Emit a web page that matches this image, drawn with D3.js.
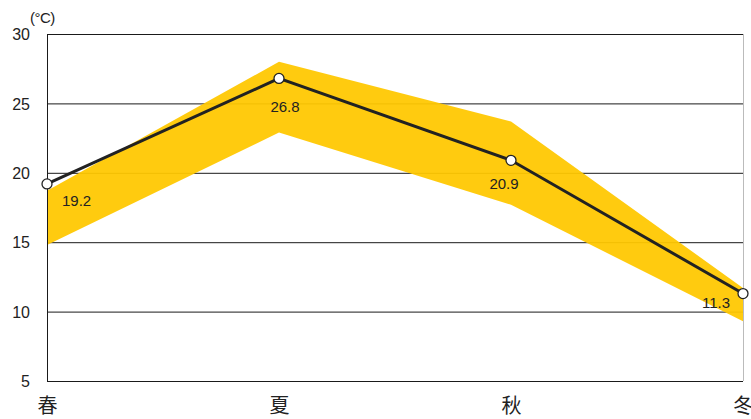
<!DOCTYPE html>
<html><head><meta charset="utf-8">
<script src="https://cdn.jsdelivr.net/npm/d3@7"></script>
<style>body{margin:0;background:#fff}svg{display:block}</style>
</head><body><svg id="c" width="751" height="419"></svg>
<script>
const seasons = ["春", "夏", "秋", "冬"];
const avgTemp = [19.2, 26.8, 20.9, 11.3];
const bandHigh = [18.7, 28.0, 23.7, 11.7];
const bandLow = [14.8, 22.9, 17.7, 9.3];
const yTicks = [5, 10, 15, 20, 25, 30];
const unitLabel = "(°C)";
// label placement (style only)
const labelPlace = [
  {anchor: "start", dx: 15, dy: 22},
  {anchor: "middle", dx: 6, dy: 34},
  {anchor: "middle", dx: -7, dy: 29},
  {anchor: "end", dx: -13, dy: 14}
];

const svg = d3.select("#c");
const L = 47, R = 743, T = 34, B = 381;
const x = d3.scalePoint().domain(seasons).range([L, R]).padding(0);
const y = d3.scaleLinear().domain([5, 30]).range([B, T]);

// gridlines
svg.append("g").selectAll("line").data(yTicks).join("line")
  .attr("x1", L).attr("x2", R)
  .attr("y1", d => y(d) + 0.5).attr("y2", d => y(d) + 0.5)
  .attr("stroke", "#1a1a1a").attr("stroke-width", 1);

// right border
svg.append("line").attr("x1", R + 0.5).attr("x2", R + 0.5).attr("y1", T).attr("y2", B)
  .attr("stroke", "#bbb").attr("stroke-width", 1);

// band
const area = d3.area()
  .x((d, i) => x(seasons[i]))
  .y0((d, i) => y(bandLow[i]))
  .y1((d, i) => y(bandHigh[i]));
svg.append("path").datum(seasons).attr("d", area)
  .attr("fill", "#ffc800").attr("fill-opacity", 0.94);

// left axis line
svg.append("line").attr("x1", L + 0.5).attr("x2", L + 0.5).attr("y1", T).attr("y2", B + 1)
  .attr("stroke", "#1a1a1a").attr("stroke-width", 1);

// y axis labels
const yAxis = d3.axisLeft(y).tickValues(yTicks).tickSize(0).tickPadding(17);
const ya = svg.append("g").attr("transform", `translate(${L},0.5)`).call(yAxis);
ya.select(".domain").remove();
ya.selectAll("text").attr("font-family", "Liberation Sans, Arial, sans-serif")
  .attr("font-size", 16).attr("fill", "#222");

svg.append("text").attr("x", 30).attr("y", 23).text(unitLabel)
  .attr("font-family", "Liberation Sans, Arial, sans-serif").attr("font-size", 15)
  .attr("letter-spacing", -0.5).attr("fill", "#222");

// x axis labels
const xAxis = d3.axisBottom(x).tickSize(0).tickPadding(18);
const xa = svg.append("g").attr("transform", `translate(0,${B})`).call(xAxis);
xa.select(".domain").remove();
xa.selectAll("text").attr("font-family", "Noto Sans CJK JP, sans-serif")
  .attr("font-size", 20).attr("fill", "#222");

// line
const line = d3.line().x((d, i) => x(seasons[i])).y(d => y(d));
svg.append("path").datum(avgTemp).attr("d", line)
  .attr("fill", "none").attr("stroke", "#222").attr("stroke-width", 3);

svg.append("g").selectAll("circle").data(avgTemp).join("circle")
  .attr("cx", (d, i) => x(seasons[i])).attr("cy", d => y(d)).attr("r", 5)
  .attr("fill", "#fff").attr("stroke", "#222").attr("stroke-width", 1.3);

// value labels
svg.append("g").selectAll("text").data(avgTemp).join("text")
  .attr("x", (d, i) => x(seasons[i]) + labelPlace[i].dx)
  .attr("y", (d, i) => y(d) + labelPlace[i].dy)
  .attr("text-anchor", (d, i) => labelPlace[i].anchor)
  .attr("font-family", "Liberation Sans Narrow, Arial Narrow, Liberation Sans, sans-serif")
  .attr("font-size", 15).attr("fill", "#222")
  .text(d => d.toFixed(1));
</script></body></html>
